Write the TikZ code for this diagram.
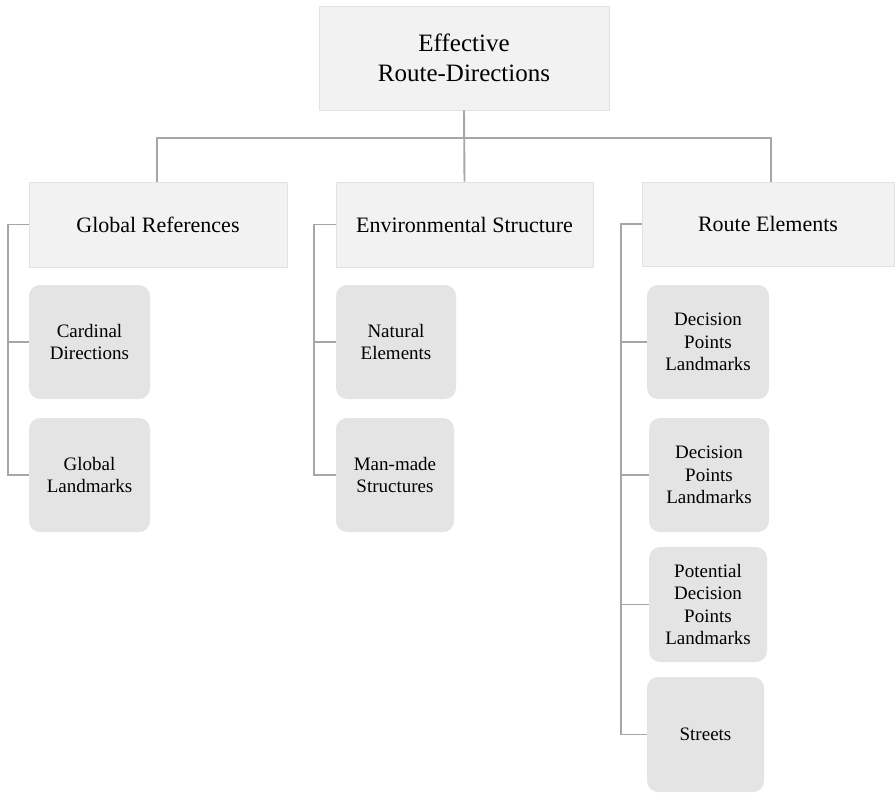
\documentclass[tikz,border=0pt]{standalone}
\usepackage{fontspec}
\setmainfont{Liberation Serif}
\definecolor{toplight}{HTML}{F2F2F2}
\definecolor{topedge}{HTML}{E2E2E2}
\definecolor{childfill}{HTML}{E4E4E4}
\definecolor{linegray}{HTML}{A6A6A6}
\tikzset{
  topbox/.style={rectangle, fill=toplight, draw=topedge, line width=0.6pt, inner sep=0pt, align=center, text=black},
  childbox/.style={rectangle, rounded corners=11pt, fill=childfill, inner sep=0pt, align=center, text=black,
    font=\fontsize{19}{22.5}\selectfont},
  conn/.style={draw=linegray, line width=1.9pt}
}
\begin{document}
\begin{tikzpicture}[x=1pt,y=-1pt]
\useasboundingbox (0,0) rectangle (895,793);
% top
\node[topbox, minimum width=290pt, minimum height=104pt, font=\fontsize{25}{30}\selectfont] (top) at (464,58) {Effective\\Route-Directions};
% level 1
\node[topbox, minimum width=258pt, minimum height=85pt, font=\fontsize{22}{26}\selectfont] (gr) at (158,224.5) {Global References};
\node[topbox, minimum width=257pt, minimum height=85pt, font=\fontsize{22}{26}\selectfont] (es) at (464.5,224.5) {Environmental Structure};
\node[topbox, minimum width=252pt, minimum height=84pt, font=\fontsize{22}{26}\selectfont] (re) at (768,224) {Route Elements};
% children
\node[childbox, minimum width=121pt, minimum height=114pt] (cd) at (89.5,342) {Cardinal\\Directions};
\node[childbox, minimum width=121pt, minimum height=114pt] (gl) at (89.5,475) {Global\\Landmarks};
\node[childbox, minimum width=120pt, minimum height=114pt] (ne) at (396,342) {Natural\\Elements};
\node[childbox, minimum width=118pt, minimum height=114pt] (mm) at (395,475) {Man-made\\Structures};
\node[childbox, minimum width=122pt, minimum height=114pt] (d1) at (708,342) {Decision\\Points\\Landmarks};
\node[childbox, minimum width=120pt, minimum height=114pt] (d2) at (709,475) {Decision\\Points\\Landmarks};
\node[childbox, minimum width=118pt, minimum height=115pt] (pd) at (708,604.5) {Potential\\Decision\\Points\\Landmarks};
\node[childbox, minimum width=117pt, minimum height=115pt] (st) at (705.5,734.5) {Streets};
% connectors top level
\coordinate (hb) at (464,138);
\draw[conn] (top.south) -- (es.north);
\draw[conn] ([xshift=-1pt]gr.north) |- (hb) -| ([xshift=3pt]re.north);
% left brackets
\coordinate (gx) at (8,0);
\coordinate (ex) at (314,0);
\coordinate (rx) at (621,0);
\draw[conn] (gr.west) -- (gr.west -| gx) |- (gl.west);
\draw[conn] (cd.west) -- (cd.west -| gx);
\draw[conn] (es.west) -- (es.west -| ex) |- (mm.west);
\draw[conn] (ne.west) -- (ne.west -| ex);
\draw[conn] (re.west) -- (re.west -| rx) |- (st.west);
\draw[conn] (d1.west) -- (d1.west -| rx);
\draw[conn] (d2.west) -- (d2.west -| rx);
\draw[conn] (pd.west) -- (pd.west -| rx);
\end{tikzpicture}
\end{document}
